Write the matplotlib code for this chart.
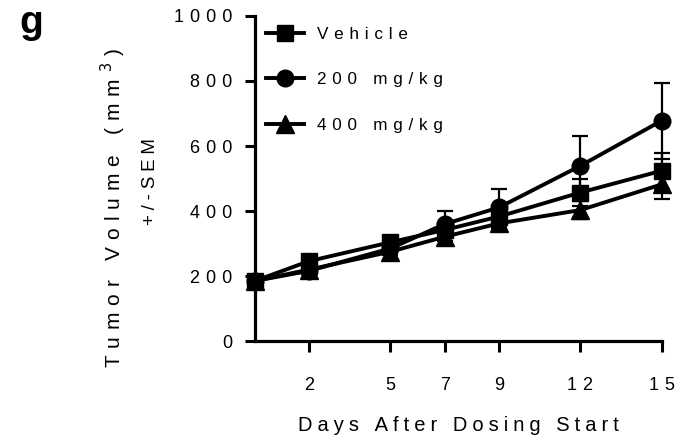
import matplotlib
matplotlib.use('Agg')
from matplotlib import pyplot as plt

plt.rcParams['font.family'] = ['Liberation Sans', 'DejaVu Sans']

days = [0, 2, 5, 7, 9, 12, 15]
day_ticks = [2, 5, 7, 9, 12, 15]
vol_ticks = [0, 200, 400, 600, 800, 1000]

vehicle = [185, 246, 304, 342, 383, 457, 524]
vehicle_sem = [6, 10, 12, 15, 18, 43, 56]
dose_200 = [185, 216, 285, 360, 411, 539, 678]
dose_200_sem = [6, 8, 12, 40, 56, 92, 117]
dose_400 = [185, 220, 275, 321, 362, 403, 482]
dose_400_sem = [6, 8, 10, 12, 14, 29, 45]

series = [('Vehicle', vehicle, vehicle_sem, 's', 12),
          ('200 mg/kg', dose_200, dose_200_sem, 'o', 12),
          ('400 mg/kg', dose_400, dose_400_sem, '^', 13)]

THIRD = '\u2004'    # third-em gap
QUARTER = '\u2005'  # quarter-em gap


def spaced(text, gap=THIRD):
    # wide letter spacing, Prism style
    return gap.join(text)


fig = plt.figure(figsize=(6.85, 4.43), dpi=100)
ax = fig.add_axes([0.372, 0.230, 0.594, 0.734])

lines = []
for name, vals, sem, mk, ms in series:
    eb = ax.errorbar(days, vals, yerr=sem, color='black', lw=2.8, marker=mk,
                     ms=ms, capsize=6, elinewidth=1.6, capthick=1.6,
                     clip_on=False, label=spaced(name))
    lines.append(eb[0])

ax.set_xlim(0, 15)
ax.set_ylim(0, 1000)
ax.set_xticks(day_ticks)
ax.set_xticklabels([spaced(str(d)) for d in day_ticks])
ax.set_yticks(vol_ticks)
ax.set_yticklabels([spaced(str(v)) for v in vol_ticks])
ax.tick_params(axis='x', length=8, width=2.2, pad=18, labelsize=13)
ax.tick_params(axis='y', length=7, width=2.2, pad=9, labelsize=13)

for side in ['top', 'right']:
    ax.spines[side].set_visible(False)
for side in ['left', 'bottom']:
    ax.spines[side].set_linewidth(2.3)

ax.set_xlabel(spaced('Days After Dosing Start', QUARTER), fontsize=14.5,
              labelpad=16)

fig.text(0.165, 0.532,
         spaced('Tumor Volume (mm') + THIRD + '$^{3}$' + THIRD + ')',
         rotation=90, ha='center', va='center', fontsize=15)
fig.text(0.219, 0.591, spaced('+/-SEM', QUARTER), rotation=90,
         ha='center', va='center', fontsize=13.5)
fig.text(0.046, 0.925, 'g', fontsize=28, fontweight='bold',
         ha='center', va='baseline')

ax.legend(handles=lines, labels=[spaced(s[0]) for s in series],
          loc='upper left', bbox_to_anchor=(0.0, 1.0), frameon=False,
          fontsize=12.3, handlelength=2.2, handletextpad=0.8,
          labelspacing=1.78, borderaxespad=0, borderpad=0.65)

fig.savefig('out.png', dpi=100)
